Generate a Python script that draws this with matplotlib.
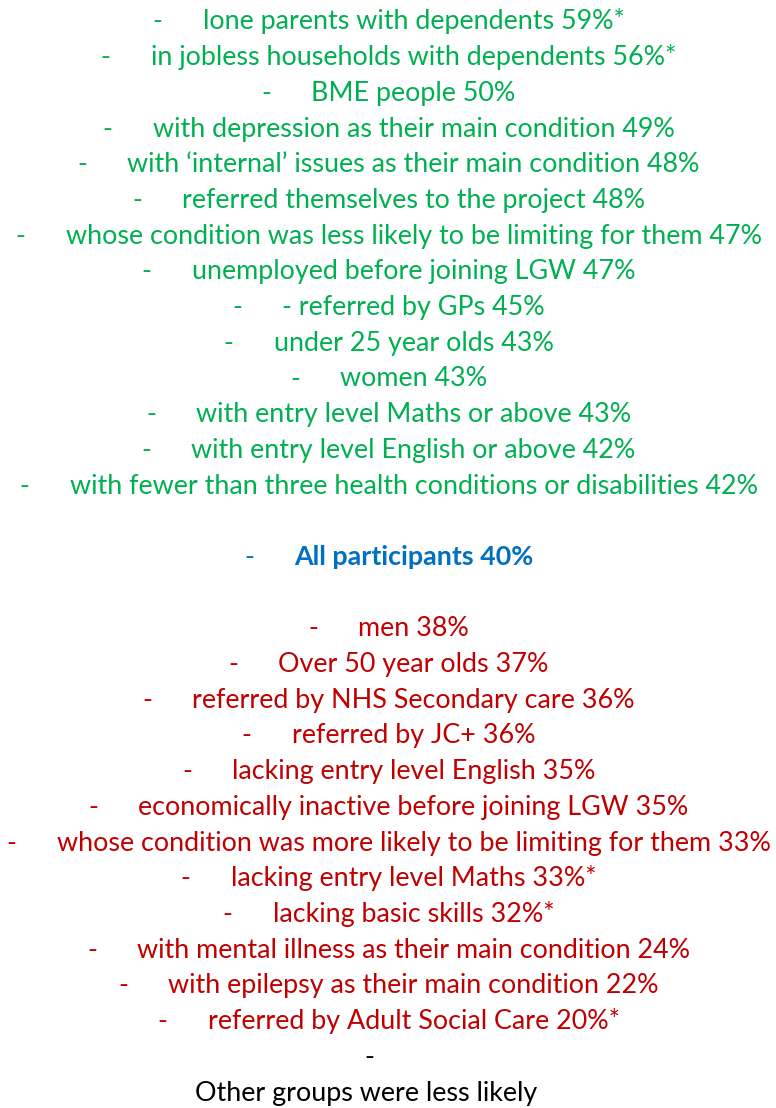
'''
Script used to redraw list of groups more or less likely to progress than all participants
'''
import matplotlib
matplotlib.use('Agg')
import matplotlib.pyplot as plt

# ---------------------------------
above_labels = [
    'lone parents with dependents',
    'in jobless households with dependents',
    'BME people',
    'with depression as their main condition',
    'with \u2018internal\u2019 issues as their main condition',
    'referred themselves to the project',
    'whose condition was less likely to be limiting for them',
    'unemployed before joining LGW',
    '- referred by GPs',
    'under 25 year olds',
    'women',
    'with entry level Maths or above',
    'with entry level English or above',
    'with fewer than three health conditions or disabilities',
]
above_values = [59, 56, 50, 49, 48, 48, 47, 47, 45, 43, 43, 43, 42, 42]
above_starred = [True, True, False, False, False, False, False, False, False, False, False, False, False, False]

all_label = 'All participants'
all_value = 40

below_labels = [
    'men',
    'Over 50 year olds',
    'referred by NHS Secondary care',
    'referred by JC+',
    'lacking entry level English',
    'economically inactive before joining LGW',
    'whose condition was more likely to be limiting for them',
    'lacking entry level Maths',
    'lacking basic skills',
    'with mental illness as their main condition',
    'with epilepsy as their main condition',
    'referred by Adult Social Care',
]
below_values = [38, 37, 36, 36, 35, 35, 33, 33, 32, 24, 22, 20]
below_starred = [False, False, False, False, False, False, False, True, True, False, False, True]

footer = 'Other groups were less likely'

# ---------------------------------
class Data:
    '''
    Layout settings
    '''
    width    : int   = 776
    height   : int   = 1108
    family   : str   = 'Lato'
    fontsize : float = 19.4
    first    : float = 29.5
    step     : float = 35.7
    center   : float = 391.0
    gap      : float = 45.0
    green    : str   = '#00B050'
    blue     : str   = '#0070C0'
    red      : str   = '#C00000'
# ---------------------------------
def _text_width(ax, text) -> float:
    rend = ax.figure.canvas.get_renderer()
    return text.get_window_extent(renderer=rend).width
# ---------------------------------
def _add_row(ax, row : int, text : str, color : str, weight : str = 'normal') -> None:
    y   = Data.first + Data.step * row
    txt = ax.text(0, y, text, color=color, fontsize=Data.fontsize, family=Data.family,
                  fontweight=weight, ha='left', va='baseline')
    wid    = _text_width(ax, txt)
    dash_x = Data.center - (wid + Data.gap) / 2
    txt.set_x(dash_x + Data.gap)
    ax.text(dash_x, y, '-', color=color, fontsize=Data.fontsize, family=Data.family,
            ha='center', va='baseline')
# ---------------------------------
def _label(label : str, value : int, starred : bool) -> str:
    star = '*' if starred else ''
    return f'{label} {value}%{star}'
# ---------------------------------
def main():
    '''
    start here
    '''
    fig = plt.figure(figsize=(Data.width / 100, Data.height / 100), dpi=100)
    ax  = fig.add_axes([0, 0, 1, 1])
    ax.set_xlim(0, Data.width)
    ax.set_ylim(Data.height, 0)
    ax.axis('off')

    row = 0
    for label, value, starred in zip(above_labels, above_values, above_starred):
        _add_row(ax, row, _label(label, value, starred), Data.green)
        row += 1

    row += 1
    _add_row(ax, row, _label(all_label, all_value, False), Data.blue, weight='bold')
    row += 2

    for label, value, starred in zip(below_labels, below_values, below_starred):
        _add_row(ax, row, _label(label, value, starred), Data.red)
        row += 1

    ax.text(369, Data.first + Data.step * row, '-', color='black', fontsize=Data.fontsize,
            family=Data.family, ha='center', va='baseline')
    row += 1
    ax.text(366, Data.first + Data.step * row, footer, color='black', fontsize=Data.fontsize,
            family=Data.family, ha='center', va='baseline')

    fig.savefig('out.png', dpi=100)
    plt.close(fig)
# ---------------------------------
if __name__ == '__main__':
    main()
